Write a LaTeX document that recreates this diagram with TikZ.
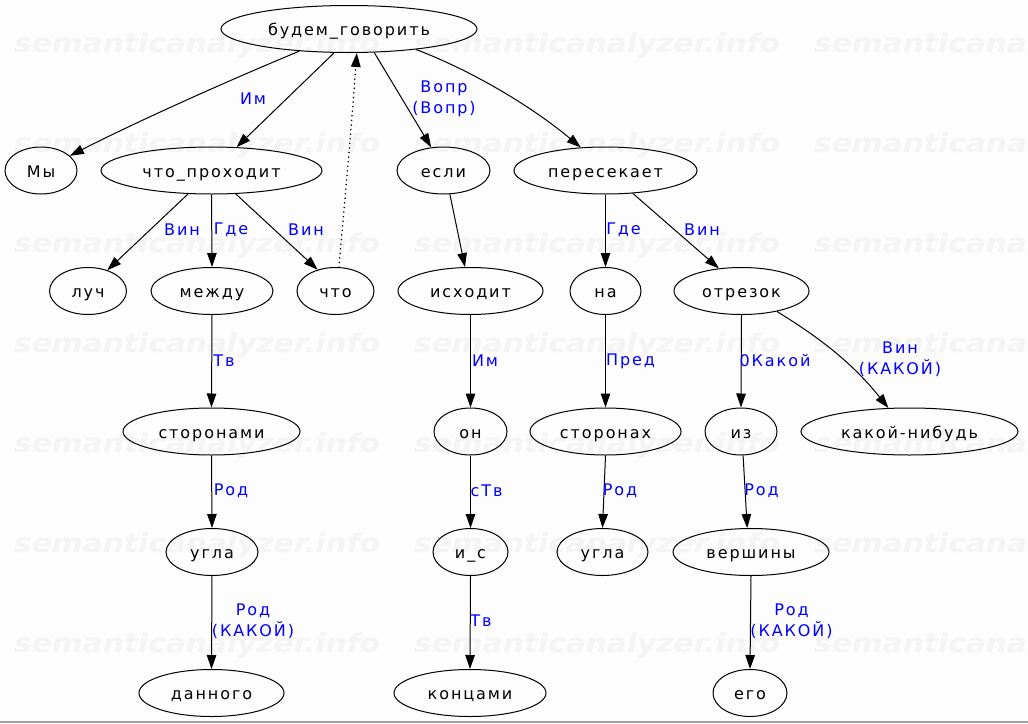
\documentclass[tikz,border=0pt]{standalone}
\usepackage{fontspec}
\setmainfont{DejaVu Sans}[LetterSpace=12]
\newfontfamily\wmfont{DejaVu Sans}[BoldItalicFont={DejaVu Sans Bold Oblique}]
\usetikzlibrary{arrows.meta,shapes.geometric}
\definecolor{bgcol}{RGB}{252,253,252}
\definecolor{wmcol}{RGB}{243,244,243}
\definecolor{lblblue}{RGB}{0,0,255}
\definecolor{framegrey}{RGB}{160,160,160}
\tikzset{
  word/.style={draw=black, line width=1pt, ellipse, inner sep=0pt,
    minimum height=47pt, text height=16pt, text depth=3pt,
    font=\fontsize{16pt}{19pt}\selectfont},
  link/.style={draw=black, line width=1pt, -{Triangle[length=14pt,width=9.5pt]}},
  dotlink/.style={link, line cap=round, dash pattern=on 0.1pt off 4.5pt, line width=1.6pt},
  lbl/.style={text=lblblue, inner sep=0pt, align=center,
    font=\fontsize{16pt}{21pt}\selectfont},
  wm/.style={text=wmcol, inner sep=0pt, anchor=west,
    font=\wmfont\bfseries\itshape\fontsize{26pt}{26pt}\selectfont, xscale=1.14, transform shape}
}
\begin{document}
\begin{tikzpicture}[x=1pt,y=-1pt]
\useasboundingbox (0,0) rectangle (1028,723);
\fill[bgcol] (0,0) rectangle (1028,723);
\draw[framegrey, line width=1.5pt] (0,722) -- (1028,722);
% watermark
\foreach \yy in {45,145,245,345,445,545,645}{
  \foreach \xx in {14,414,814}{
    \node[wm] at (\xx,\yy) {semanticanalyzer.info};
  }
}
% nodes
\node[word, minimum width=256pt] (bg) at (349,29) {будем\_говорить};
\node[word, minimum width=72pt] (my) at (41,170.5) {Мы};
\node[word, minimum width=221pt] (chp) at (211.5,170.5) {что\_проходит};
\node[word, minimum width=93pt] (esli) at (443.5,170.5) {если};
\node[word, minimum width=183pt] (peres) at (605.5,170.5) {пересекает};
\node[word, minimum width=77pt] (luch) at (88,291) {луч};
\node[word, minimum width=122pt] (mezhdu) at (212,291) {между};
\node[word, minimum width=77pt] (chto) at (335.5,291) {что};
\node[word, minimum width=145pt] (ishodit) at (470.5,291) {исходит};
\node[word, minimum width=71pt] (na) at (605.5,291) {на};
\node[word, minimum width=135pt] (otrezok) at (741.5,291) {отрезок};
\node[word, minimum width=177pt] (storonami) at (211.5,431.5) {сторонами};
\node[word, minimum width=73pt] (on) at (470.5,431.5) {он};
\node[word, minimum width=151pt] (storonah) at (605.5,431.5) {сторонах};
\node[word, minimum width=72pt] (iz) at (741,431.5) {из};
\node[word, minimum width=217pt] (kakoy) at (909.5,431.5) {какой-нибудь};
\node[word, minimum width=92pt] (uglaA) at (212,552) {угла};
\node[word, minimum width=75pt] (is) at (470.5,552) {и\_с};
\node[word, minimum width=91pt] (uglaB) at (602.5,552) {угла};
\node[word, minimum width=156pt] (vershiny) at (751,552) {вершины};
\node[word, minimum width=145pt] (dannogo) at (211.5,693) {данного};
\node[word, minimum width=152pt] (koncami) at (470,693) {концами};
\node[word, minimum width=74pt] (ego) at (750,693) {его};
% edges
\draw[link] (bg.204) .. controls (230,80) and (140,120) .. (my.27);
\draw[link] (bg.238) -- (chp.43);
\draw[link] (bg.317) -- (esli.118);
\draw[link] (bg.343) .. controls (470,70) and (530,105) .. (peres.137);
\draw[dotlink] (chto.82) .. controls (345,200) and (352,120) .. (bg.288);
\draw[link] (chp.225) -- (luch.47.5);
\draw[link] (chp.south) -- (mezhdu.north);
\draw[link] (chp.316) -- (chto.130);
\draw[link] (esli.285.5) -- (ishodit.103);
\draw[link] (peres.south) -- (na.north);
\draw[link] (peres.320.7) -- (otrezok.135.6);
\draw[link] (mezhdu.south) -- (storonami.north);
\draw[link] (ishodit.south) -- (on.north);
\draw[link] (na.south) -- (storonah.north);
\draw[link] (otrezok.south) -- (iz.north);
\draw[link] (otrezok.330) .. controls (815,335) and (850,360) .. (kakoy.132.5);
\draw[link] (storonami.south) -- (uglaA.north);
\draw[link] (on.south) -- (is.north);
\draw[link] (storonah.south) -- (uglaB.north);
\draw[link] (iz.275) -- (vershiny.99.5);
\draw[link] (uglaA.south) -- (dannogo.north);
\draw[link] (is.south) -- (koncami.north);
\draw[link] (vershiny.south) -- (ego.north);
% labels
\node[lbl] (l1) at (253,99) {Им};
\node[lbl] (l2) at (444,99) {Вопр\\(Вопр)};
\node[lbl] (l3) at (182,230) {Вин};
\node[lbl] (l4) at (231,230) {Где};
\node[lbl] (l5) at (306,230) {Вин};
\node[lbl] (l6) at (623.5,230) {Где};
\node[lbl] (l7) at (702,230) {Вин};
\node[lbl] (l8) at (224,361) {Тв};
\node[lbl] (l9) at (485,361) {Им};
\node[lbl] (l10) at (630.5,361) {Пред};
\node[lbl] (l11) at (775,361) {0Какой};
\node[lbl] (l12) at (900,359) {Вин\\(КАКОЙ)};
\node[lbl] (l13) at (231,491) {Род};
\node[lbl] (l14) at (486.5,491) {сТв};
\node[lbl] (l15) at (620,491) {Род};
\node[lbl] (l16) at (761.5,491) {Род};
\node[lbl] (l17) at (253,621) {Род\\(КАКОЙ)};
\node[lbl] (l18) at (481,621) {Тв};
\node[lbl] (l19) at (791.5,621) {Род\\(КАКОЙ)};
\end{tikzpicture}
\end{document}
